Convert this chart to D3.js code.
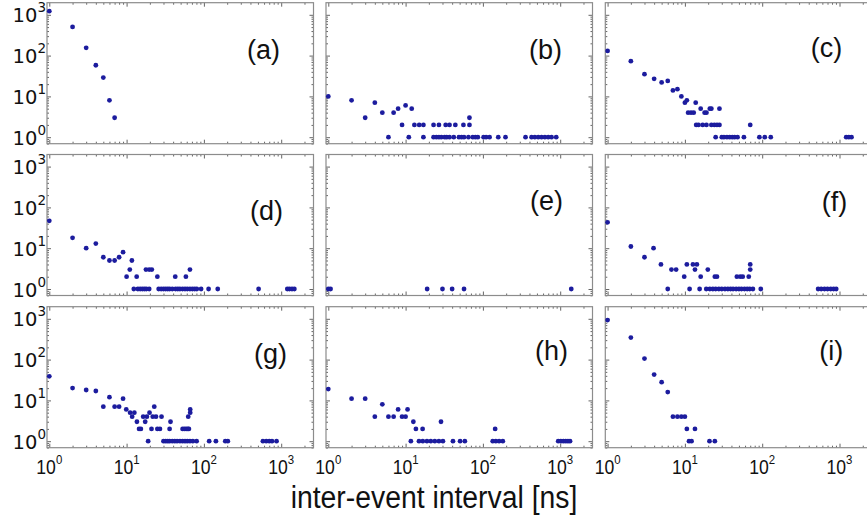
<!DOCTYPE html>
<html>
<head>
<meta charset="utf-8">
<script src="https://cdn.jsdelivr.net/npm/d3@7/dist/d3.min.js"></script>
<style>
  html, body { margin: 0; padding: 0; background: #fff; }
  svg { display: block; }
</style>
</head>
<body>
<svg id="chart" width="867" height="520"></svg>
<script>
// ---------------- DATA ----------------
const panelNames = ["(a)", "(b)", "(c)", "(d)", "(e)", "(f)", "(g)", "(h)", "(i)"];
const xTickLabels = ["0", "1", "2", "3"];   // exponents of 10 on x axis
const yTickLabels = ["0", "1", "2", "3"];   // exponents of 10 on y axis
const xAxisTitle = "inter-event interval [ns]";

const intervalsA = [1, 2, 3, 4, 5, 6, 7];
const countsA    = [1230, 505, 155, 58, 29, 8, 3];

const intervalsB = [1, 2, 3, 4, 5, 6, 7, 8, 9, 10, 11, 12, 13, 15, 17, 17, 23, 27, 33, 37, 44, 56, 67, 67,
  23, 25, 27, 29, 32, 34, 37, 42, 49, 53, 57, 65, 74, 80, 86, 102, 110, 122, 158, 196, 356, 426, 470, 520, 574, 634, 700, 773, 888];
const countsB    = [10, 8, 3, 7, 4, 1, 4, 5, 2, 6, 1, 5, 2, 2, 2, 1, 2, 2, 2, 2, 2, 2, 2, 3,
  1, 1, 1, 1, 1, 1, 1, 1, 1, 1, 1, 1, 1, 1, 1, 1, 1, 1, 1, 1, 1, 1, 1, 1, 1, 1, 1, 1, 1];

const intervalsC = [1, 2, 3, 4, 5, 6, 7, 8, 9, 10, 10.6, 13.8, 11, 12, 13, 16, 18, 19, 21, 22, 28,
  14, 15, 17, 19, 22, 24, 26, 28, 70,
  25, 30, 32, 35, 38, 41, 44, 48, 58, 92, 108, 129, 1220, 1320, 1430];
const countsC    = [130, 73, 35, 27, 22, 24, 14, 15, 10, 7, 8, 7, 4, 4, 4, 5, 4, 4, 5, 5, 5,
  2, 2, 2, 2, 2, 2, 2, 2, 2,
  1, 1, 1, 1, 1, 1, 1, 1, 1, 1, 1, 1, 1, 1, 1];

const intervalsD = [1, 2, 3, 4, 5, 6, 7, 8, 9, 10, 11, 11.7, 13.5, 17.8, 19.6, 21.2, 25, 42.6, 58.5, 66,
  12.4, 14, 15, 16, 17, 18, 19.6, 26, 28, 30, 32, 34, 36, 39, 43, 46, 49, 53, 57, 61, 66, 71, 76, 81, 92, 115, 151, 510, 1200, 1280, 1380, 1480];
const countsD    = [47, 18, 10, 13, 6, 5, 5, 6, 8, 2, 3, 5, 2, 3, 3, 3, 2, 2, 2, 3,
  1, 1, 1, 1, 1, 1, 1, 1, 1, 1, 1, 1, 1, 1, 1, 1, 1, 1, 1, 1, 1, 1, 1, 1, 1, 1, 1, 1, 1, 1, 1, 1];

const intervalsE = [1, 1.07, 19, 30, 40, 57, 1390];
const countsE    = [1, 1, 1, 1, 1, 1, 1];

const intervalsF = [1, 2, 3, 3.93, 4.9, 6, 6.7, 7.7, 9.8, 10.6, 11.5, 12.7, 13.5, 14.3, 15.5, 16, 19.8, 24.4, 26, 47, 52, 56, 67, 70, 70,
  18.9, 21, 23, 25, 27.5, 30, 33, 36, 39, 42, 46, 50, 54, 59, 64, 69, 75.8, 95.8, 529, 580, 640, 700, 770, 840, 907];
const countsF    = [43, 11, 6, 10, 4, 1, 3, 3, 2, 4, 1, 4, 3, 4, 1, 2, 3, 2, 2, 2, 2, 2, 2, 3, 4,
  1, 1, 1, 1, 1, 1, 1, 1, 1, 1, 1, 1, 1, 1, 1, 1, 1, 1, 1, 1, 1, 1, 1, 1, 1];

const intervalsG = [1, 2, 3, 4, 5, 6, 7, 8, 9, 9.9, 11.1, 11.8, 12.6, 13.6, 14.5, 15.3, 16.4, 17.4, 18.3, 19, 19.8, 21, 21.8, 22.8, 24, 25, 27, 28.3,
  36, 37, 53, 56, 59, 62, 64, 62.7, 66.5, 66.5,
  30, 32, 34, 36, 39, 42, 45, 49, 53, 57, 61, 66, 72, 80.5, 117, 143, 189, 204, 580, 640, 700, 760, 870];
const countsG    = [39, 20, 18, 17, 7, 12, 7, 7, 11, 6, 5, 4, 5, 3, 2, 2, 4, 3, 4, 1, 5, 2, 4, 7, 4, 2, 2, 4,
  2, 3, 2, 2, 2, 2, 2, 4, 5, 6,
  1, 1, 1, 1, 1, 1, 1, 1, 1, 1, 1, 1, 1, 1, 1, 1, 1, 1, 1, 1, 1, 1, 1];

const intervalsH = [1, 2, 3, 4, 5, 6, 7, 8, 9, 10, 10.6, 11.7, 12.6, 13.6, 16.6, 28.7, 144,
  14.9, 16.7, 18.9, 21.2, 23.9, 27, 30.4, 41, 50.7, 58.4, 134, 147, 162, 181, 942, 1020, 1100, 1180, 1260, 1340];
const countsH    = [19, 11, 11, 4, 8, 4, 4, 6, 4, 4, 6, 1, 3, 2, 2, 3, 2,
  1, 1, 1, 1, 1, 1, 1, 1, 1, 1, 1, 1, 1, 1, 1, 1, 1, 1, 1, 1];

const intervalsI = [1, 2, 3, 4, 5, 6, 7, 8, 9, 10, 10.6, 11.3, 12.2, 13.5, 20.8, 24.4];
const countsI    = [930, 347, 106, 43, 28, 16, 4, 4, 4, 4, 2, 1, 1, 2, 1, 1];

const panelIntervals = [intervalsA, intervalsB, intervalsC, intervalsD, intervalsE, intervalsF, intervalsG, intervalsH, intervalsI];
const panelCounts    = [countsA, countsB, countsC, countsD, countsE, countsF, countsG, countsH, countsI];

// ---------------- LAYOUT ----------------
const colLeft = [47, 326, 605.3];
const rowTop  = [2.7, 154.5, 306.7];
const panelW = 266.5, panelH = 141;
const xDomain = [0.934, 2617];
const yDomain = [0.693, 1980];
// label anchor (right end x, baseline y) relative to panel origin
const labelAnchor = [[233, 56], [236, 56], [237, 54], [236, 65], [237, 55], [242, 56], [240, 56], [242, 53], [238, 53]];

const dotColor = "#1c1c9e";
const frameColor = "#8c8c8c";
const tickColor = "#555";

const svg = d3.select("#chart");

const x = d3.scaleLog().domain(xDomain).range([0, panelW]);
const y = d3.scaleLog().domain(yDomain).range([panelH, 0]);

function minorTicks(domain) {
  const out = [];
  for (let e = -1; e <= 4; e++) {
    for (let m = 2; m <= 9; m++) {
      const v = m * Math.pow(10, e);
      if (v > domain[0] && v < domain[1]) out.push(v);
    }
  }
  return out;
}
const majors = [1, 10, 100, 1000];
const xMinor = minorTicks(xDomain);
const yMinor = minorTicks(yDomain);

function styleAxis(sel) {
  sel.select(".domain").remove();
  sel.selectAll("text").remove();
  sel.selectAll("line").attr("stroke", tickColor).attr("stroke-width", 0.9);
}

for (let i = 0; i < 9; i++) {
  const r = Math.floor(i / 3), c = i % 3;
  const g = svg.append("g").attr("transform", `translate(${colLeft[c]},${rowTop[r]})`);

  const addAxes = (vals, size) => {
    g.append("g").attr("transform", `translate(0,${panelH})`)
      .call(d3.axisBottom(x).tickValues(vals).tickSize(-size)).call(styleAxis);
    g.append("g")
      .call(d3.axisTop(x).tickValues(vals).tickSize(-size)).call(styleAxis);
  };
  const addYAxes = (vals, size) => {
    g.append("g")
      .call(d3.axisLeft(y).tickValues(vals).tickSize(-size)).call(styleAxis);
    g.append("g").attr("transform", `translate(${panelW},0)`)
      .call(d3.axisRight(y).tickValues(vals).tickSize(-size)).call(styleAxis);
  };
  addAxes(majors, 4);
  addAxes(xMinor, 2);
  addYAxes(majors, 4);
  addYAxes(yMinor, 2);

  g.append("rect").attr("x", 0).attr("y", 0).attr("width", panelW).attr("height", panelH)
    .attr("fill", "none").attr("stroke", frameColor).attr("stroke-width", 1.2);

  const pts = panelIntervals[i].map((v, k) => [v, panelCounts[i][k]]);
  g.append("g").selectAll("circle").data(pts).join("circle")
    .attr("cx", d => x(d[0])).attr("cy", d => y(d[1])).attr("r", 2.4)
    .attr("fill", dotColor);

  g.append("text").attr("x", labelAnchor[i][0]).attr("y", labelAnchor[i][1])
    .attr("text-anchor", "end")
    .attr("font-family", "Liberation Sans, Arial, sans-serif")
    .attr("font-size", 27).attr("fill", "#111")
    .text(panelNames[i]);

  if (c === 0) {
    yTickLabels.forEach(e => {
      const t = g.append("text").attr("x", -1).attr("y", y(Math.pow(10, +e)) + 7.5)
        .attr("text-anchor", "end")
        .attr("font-family", "DejaVu Sans, sans-serif").attr("fill", "#111");
      t.append("tspan").attr("font-size", 19.5).text("10");
      t.append("tspan").attr("font-size", 13.5).attr("dy", -10).text(e);
    });
  }
  if (r === 2) {
    xTickLabels.forEach(e => {
      const cx = x(Math.pow(10, +e));
      const t = g.append("text").attr("transform", `translate(${cx},${panelH + 26}) scale(0.88,1)`)
        .attr("text-anchor", "middle")
        .attr("font-family", "Liberation Sans, Arial, sans-serif").attr("fill", "#111");
      t.append("tspan").attr("font-size", 20).text("10");
      t.append("tspan").attr("font-size", 13).attr("dy", -10).text(e);
    });
  }
}

svg.append("text").attr("transform", "translate(434,508) scale(0.9,1)").attr("text-anchor", "middle")
  .attr("font-family", "Liberation Sans, Arial, sans-serif").attr("font-size", 31.5)
  .attr("fill", "#111").text(xAxisTitle);
</script>
</body>
</html>
